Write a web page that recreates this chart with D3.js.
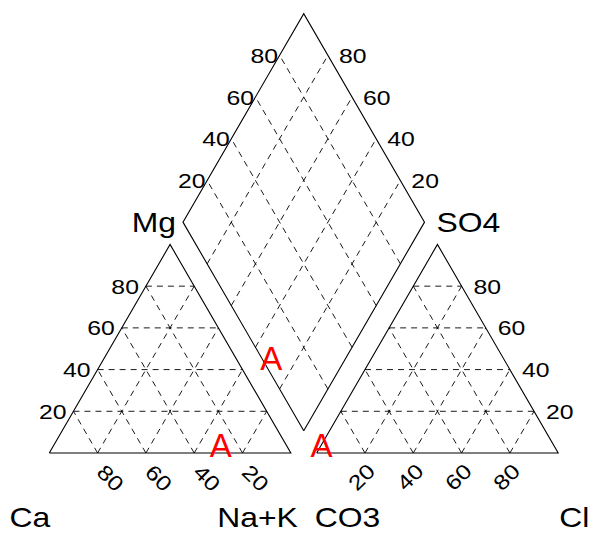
<!DOCTYPE html>
<html>
<head>
<meta charset="utf-8">
<script src="https://cdn.jsdelivr.net/npm/d3@7"></script>
<style>
  body { margin: 0; background: #fff; }
  text { font-family: "Liberation Sans", Arial, sans-serif; }
</style>
</head>
<body>
<div id="chart"></div>
<script>
// sample data (percent of meq)
const sampleNames = ["A"];
const caPct = [27];
const mgPct = [4];
const nakPct = [69];
const co3Pct = [96];
const so4Pct = [4];
const clPct = [0];

// grid + tick labels
const gridPct = [20, 40, 60, 80];
const tickLabels = ["20", "40", "60", "80"];
const baseLeftLabels = ["80", "60", "40", "20"];
const cationNames = ["Ca", "Mg", "Na+K"];
const anionNames = ["CO3", "SO4", "Cl"];

const width = 591, height = 533;
const S = Math.sqrt(3) / 2;
const gap = 0.107;   // space between the triangles
const stretch = 1.18; // labels are a bit wide in the original

const svg = d3.select("#chart").append("svg")
  .attr("width", width)
  .attr("height", height);

svg.append("rect").attr("width", width).attr("height", height).attr("fill", "#fff");

// unit space -> pixels
const x = d3.scaleLinear().domain([0, 2 + gap]).range([49.3, 558.2]);
const y = d3.scaleLinear().domain([0, 1]).range([453, 453 - 240.8]);

const line = d3.line().x(d => x(d[0])).y(d => y(d[1]));

function cation(ca, mg, nak) {
  const t = ca + mg + nak;
  return [(nak + mg / 2) / t, (mg / t) * S];
}
function anion(co3, so4, cl) {
  const t = co3 + so4 + cl;
  return [1 + gap + (cl + so4 / 2) / t, (so4 / t) * S];
}
function diamondPt(c, a) {
  const t = (a[0] - c[0]) + (a[1] - c[1]) / (2 * S);
  return [c[0] + 0.5 * t, c[1] + S * t];
}

// corners
const L = [[0, 0], [1, 0], [0.5, S]];
const R = [[1 + gap, 0], [2 + gap, 0], [1.5 + gap, S]];
const dBot = [1 + gap / 2, gap * S];
const dLeft = [0.5 + gap / 2, S * (1 + gap)];
const dTop = [1 + gap / 2, S * (2 + gap)];
const dRight = [1.5 + gap / 2, S * (1 + gap)];

// dashed grid lines
const grid = [];
gridPct.forEach(p => {
  const f = p / 100;
  [0, 1 + gap].forEach(o => {
    grid.push([[o + f / 2, f * S], [o + 1 - f / 2, f * S]]);   // horizontal
    grid.push([[o + f, 0], [o + f / 2, f * S]]);               // "\"
    grid.push([[o + f, 0], [o + f + (1 - f) / 2, (1 - f) * S]]); // "/"
  });
  grid.push([[dBot[0] + 0.5 * f, dBot[1] + S * f], [dLeft[0] + 0.5 * f, dLeft[1] + S * f]]);
  grid.push([[dBot[0] - 0.5 * f, dBot[1] + S * f], [dRight[0] - 0.5 * f, dRight[1] + S * f]]);
});

svg.append("g").selectAll("path")
  .data(grid)
  .enter().append("path")
  .attr("d", line)
  .attr("fill", "none")
  .attr("stroke", "#000")
  .attr("stroke-width", 0.9)
  .attr("stroke-dasharray", "6,5");

// outlines
[L.concat([L[0]]), R.concat([R[0]]), [dBot, dLeft, dTop, dRight, dBot]].forEach(pts => {
  svg.append("path")
    .attr("d", line(pts))
    .attr("fill", "none")
    .attr("stroke", "#000")
    .attr("stroke-width", 1.1);
});

const ticks = svg.append("g").style("font-size", "21px").attr("fill", "#000");

function label(px, py, txt, anchor, rot) {
  ticks.append("text")
    .attr("transform", "translate(" + px + "," + py + ")" + (rot ? " rotate(" + rot + ")" : "") + " scale(" + stretch + ",1)")
    .attr("text-anchor", anchor)
    .attr("dy", "0.36em")
    .text(txt);
}

gridPct.forEach((p, i) => {
  const f = p / 100;
  // left triangle, Mg side
  label(x(f / 2) - 7, y(f * S), tickLabels[i], "end");
  // left triangle base
  label(x(f) + 13, y(0) + 25, baseLeftLabels[i], "middle", 45);
  // right triangle, SO4 side
  label(x(2 + gap - f / 2) + 12, y(f * S), tickLabels[i], "start");
  // right triangle base
  label(x(1 + gap + f) - 3.5, y(0) + 24, tickLabels[i], "middle", -45);
  // diamond upper left / upper right
  label(x(dLeft[0] + 0.5 * f) - 1.5, y(dLeft[1] + S * f), tickLabels[i], "end");
  label(x(dRight[0] - 0.5 * f) + 11, y(dRight[1] + S * f), tickLabels[i], "start");
});

// axis names
const names = svg.append("g").style("font-size", "27px").attr("fill", "#000");
function name(px, py, txt, anchor) {
  names.append("text")
    .attr("transform", "translate(" + px + "," + py + ") scale(" + stretch + ",1)")
    .attr("text-anchor", anchor)
    .text(txt);
}
name(x(0) + 1, 527, cationNames[0], "end");
name(x(1) + 7, 527, cationNames[2], "end");
name(x(1 + gap) - 2, 527, anionNames[0], "start");
name(x(2 + gap) + 1, 527, anionNames[2], "start");
name(x(dLeft[0]) - 7, 232, cationNames[1], "end");
name(x(dRight[0]) + 12, 232, anionNames[1], "start");

// samples
const samples = sampleNames.map((n, i) => {
  const c = cation(caPct[i], mgPct[i], nakPct[i]);
  const a = anion(co3Pct[i], so4Pct[i], clPct[i]);
  return { name: n, pts: [c, a, diamondPt(c, a)] };
});

samples.forEach(s => {
  svg.append("g").selectAll("text")
    .data(s.pts)
    .enter().append("text")
    .attr("x", d => x(d[0]))
    .attr("y", d => y(d[1]))
    .attr("dy", "0.36em")
    .attr("text-anchor", "middle")
    .attr("fill", "#ff0000")
    .style("font-size", "33px")
    .text(s.name);
});
</script>
</body>
</html>
